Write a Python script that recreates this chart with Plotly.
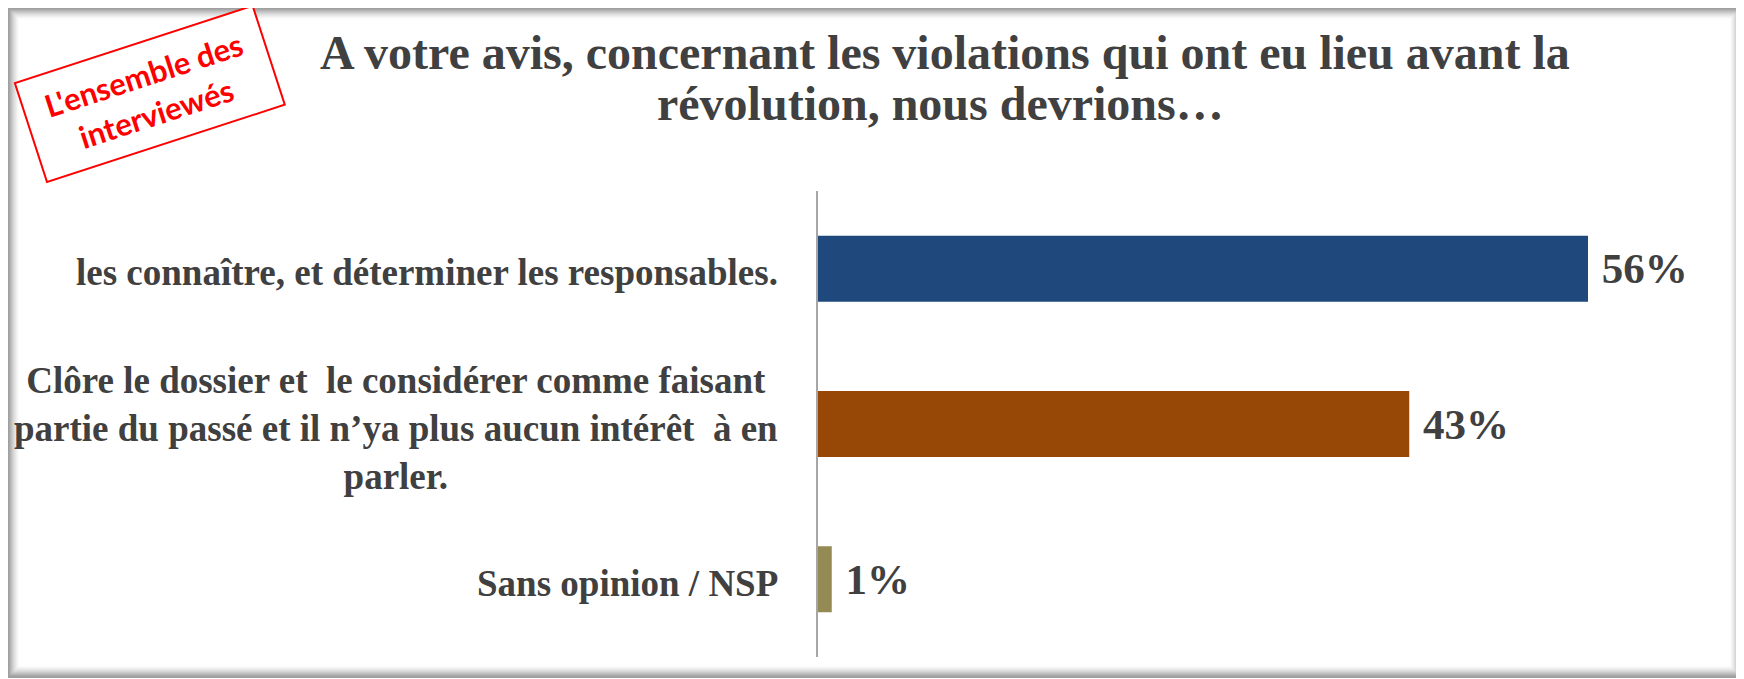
import plotly.graph_objects as go

# data
categories = [
    "les connaître, et déterminer les responsables.",
    "Clôre le dossier et  le considérer comme faisant<br>partie du passé et il n’ya plus aucun intérêt  à en<br>parler.",
    "Sans opinion / NSP",
]
values = [56, 43, 1]
bar_colors = ["#1F497D", "#974706", "#948A54"]
value_labels = [f" {v}%" for v in values]

title_lines = [
    "A votre avis, concernant les violations qui ont eu lieu avant la",
    "révolution, nous devrions…",
]
stamp_text = "L'ensemble des<br>interviewés"

# the page body has an 8px margin, so the figure is a bit smaller
# and all page positions below are shifted by OFF
OFF = 8
W, H = 1744 - OFF, 679 - OFF
PL, PW = 818 - OFF, 825
PT, PH = 191 - OFF, 466

TEXT = "#404040"
SERIF = "Liberation Serif, Times New Roman, serif"


def px(x):
    return (x - OFF - PL) / PW


def py(y):
    return (PT + PH - (y - OFF)) / PH


fig = go.Figure()
fig.add_trace(
    go.Bar(
        x=values,
        y=categories,
        orientation="h",
        marker=dict(color=bar_colors, line=dict(width=0)),
        text=value_labels,
        textposition="outside",
        constraintext="none",
        cliponaxis=False,
        textfont=dict(family=SERIF, size=43, color=TEXT, weight="bold"),
        hoverinfo="skip",
    )
)

annotations = []
# category labels, centred lines, right edge near the axis
for cat in categories:
    annotations.append(
        dict(
            x=0, y=cat, xref="x", yref="y",
            text=cat, showarrow=False,
            xanchor="right", yanchor="middle", align="center",
            xshift=-38, yshift=-4,
            font=dict(family=SERIF, size=37, color=TEXT, weight="bold"),
        )
    )

# title, two lines
for line, (cx, cy) in zip(title_lines, [(945, 52), (940, 104)]):
    annotations.append(
        dict(
            x=px(cx), y=py(cy), xref="paper", yref="paper",
            text=line, showarrow=False,
            xanchor="center", yanchor="middle",
            font=dict(family=SERIF, size=48, color=TEXT, weight="bold"),
        )
    )

# red stamp
annotations.append(
    dict(
        x=px(149.5), y=py(94.5), xref="paper", yref="paper",
        text=stamp_text, showarrow=False,
        xanchor="center", yanchor="middle", align="center",
        textangle=-18,
        width=226, height=80, borderpad=11,
        bordercolor="#FF0000", borderwidth=2, bgcolor="white",
        font=dict(family="Lato, Open Sans, sans-serif", size=31, color="#FF0000", weight="bold"),
    )
)

# frame with a soft inner shadow
shapes = []
x0, y0, x1, y1 = 8, 8, 1741, 677
for k in range(13):
    a = 0.85 * (1 - k / 13) ** 2
    shapes.append(
        dict(
            type="rect", xref="paper", yref="paper",
            x0=px(x0 + k), x1=px(x1 - k), y0=py(y0 + k), y1=py(y1 - k),
            line=dict(color=f"rgba(100,100,100,{a:.3f})", width=1),
            fillcolor="rgba(0,0,0,0)",
        )
    )
shapes.append(
    dict(
        type="rect", xref="paper", yref="paper",
        x0=px(x0), x1=px(x1), y0=py(y0), y1=py(y1),
        line=dict(color="#A0A0A0", width=2),
        fillcolor="rgba(0,0,0,0)",
    )
)

fig.update_layout(
    width=W, height=H,
    margin=dict(l=PL, r=W - PL - PW, t=PT, b=H - PT - PH, pad=0),
    paper_bgcolor="white", plot_bgcolor="white",
    showlegend=False,
    bargap=0.575,
    annotations=annotations,
    shapes=shapes,
    xaxis=dict(range=[0, 60], visible=False, fixedrange=True),
    yaxis=dict(
        autorange="reversed",
        showticklabels=False,
        showgrid=False,
        zeroline=False,
        showline=True,
        linecolor="#A6A6A6",
        linewidth=2,
        ticks="",
        fixedrange=True,
    ),
)

fig.write_html("out.html")
